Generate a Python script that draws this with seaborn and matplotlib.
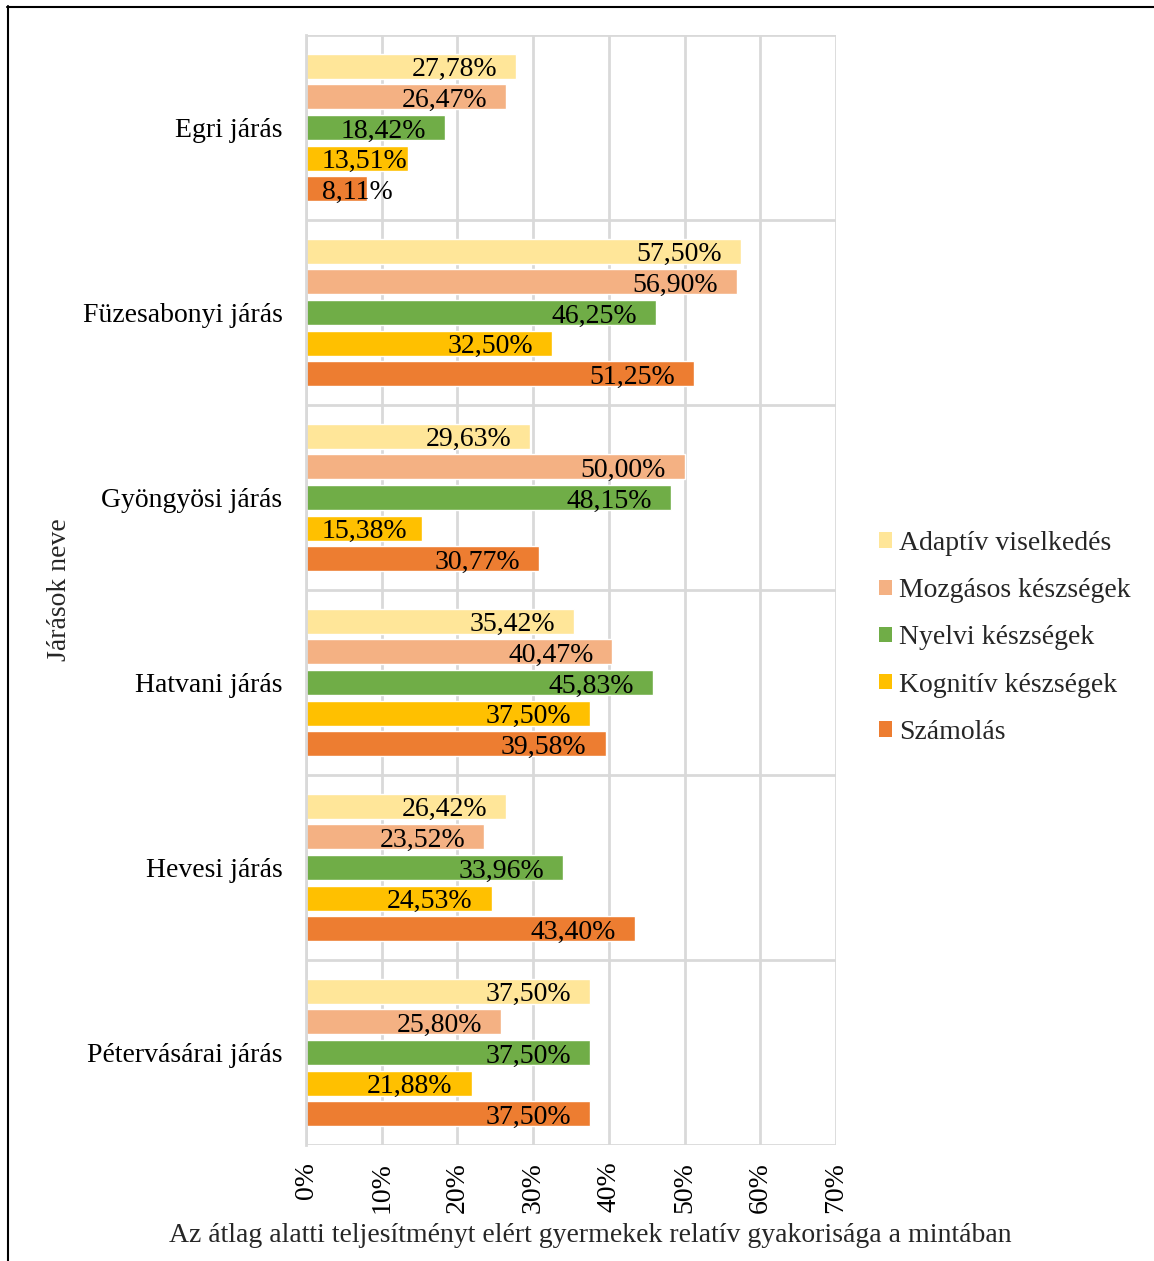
import numpy as np
import pandas as pd
import matplotlib
matplotlib.use("Agg")
import matplotlib.pyplot as plt
import seaborn as sns
from matplotlib.lines import Line2D
from matplotlib.patches import Patch
from matplotlib.transforms import ScaledTranslation

# Districts (top to bottom) and skill areas (series)
districts = ["Egri járás", "Füzesabonyi járás", "Gyöngyösi járás",
             "Hatvani járás", "Hevesi járás", "Pétervásárai járás"]
skills = ["Adaptív viselkedés", "Mozgásos készségek", "Nyelvi készségek",
          "Kognitív készségek", "Számolás"]

# Share of children below average, in percent, per district
adaptiv = [27.78, 57.50, 29.63, 35.42, 26.42, 37.50]
mozgasos = [26.47, 56.90, 50.00, 40.47, 23.52, 25.80]
nyelvi = [18.42, 46.25, 48.15, 45.83, 33.96, 37.50]
kognitiv = [13.51, 32.50, 15.38, 37.50, 24.53, 21.88]
szamolas = [8.11, 51.25, 30.77, 39.58, 43.40, 37.50]

xticks = [0, 10, 20, 30, 40, 50, 60, 70]
xticklabels = ["0%", "10%", "20%", "30%", "40%", "50%", "60%", "70%"]

colors = ["#FFE699", "#F4B183", "#70AD47", "#FFC000", "#ED7D31"]

series = [adaptiv, mozgasos, nyelvi, kognitiv, szamolas]
df = pd.DataFrame(
    [(d, s, v) for s, vals in zip(skills, series) for d, v in zip(districts, vals)],
    columns=["district", "skill", "value"],
)

sns.set_theme(style="white")
plt.rcParams["font.family"] = ["Liberation Serif", "DejaVu Serif"]

W, H = 1154, 1261
fig = plt.figure(figsize=(W / 100, H / 100), dpi=100)
ax = fig.add_axes([306 / W, 1 - 1145 / H, 530 / W, 1110 / H])

sns.barplot(data=df, x="value", y="district", hue="skill",
            order=districts, hue_order=skills, palette=colors,
            orient="h", width=0.83, gap=0.19, saturation=1,
            errorbar=None, legend=False, ax=ax)

grid_c = "#D9D9D9"
ax.set_xlim(0, 70)
ax.set_ylim(5.5, -0.5)
ax.set_xticks(xticks)
ax.set_xticklabels(xticklabels, rotation=90, fontsize=20)
ax.set_yticks(range(len(districts)))
ax.set_yticklabels(districts, fontsize=20)
ax.set_yticks(np.arange(-0.5, len(districts), 1), minor=True)
ax.set_xlabel("")
ax.set_ylabel("")
ax.set_axisbelow(True)
ax.xaxis.grid(True, color=grid_c, lw=2)
ax.yaxis.grid(True, which="minor", color=grid_c, lw=2)
ax.yaxis.grid(False, which="major")
ax.tick_params(axis="x", length=0, pad=12, colors="black")
ax.tick_params(axis="y", which="major", length=0, pad=17, colors="black")
ax.tick_params(axis="y", which="minor", length=6, width=2, color=grid_c,
               direction="out")
for side in ["top", "right", "bottom"]:
    ax.spines[side].set_visible(False)
ax.spines["left"].set_color(grid_c)
ax.spines["left"].set_linewidth(2)

# Value labels at the inside end of each bar
fig.canvas.draw()
renderer = fig.canvas.get_renderer()
px_per_unit = ax.transData.transform((1, 0))[0] - ax.transData.transform((0, 0))[0]
x0_px = ax.transData.transform((0, 0))[0]
shift_down = ax.transData + ScaledTranslation(0, -3.5 / 100, fig.dpi_scale_trans)
for cont, vals in zip(ax.containers, series):
    for bar, v in zip(cont, vals):
        yc = bar.get_y() + bar.get_height() / 2
        label = f"{v:.2f}%".replace(".", ",")
        t = ax.text(v - 19 / px_per_unit, yc, label, ha="right", va="center",
                    fontsize=20, color="black", transform=shift_down)
        bb = t.get_window_extent(renderer)
        min_left = x0_px + 16
        if bb.x0 < min_left:
            t.set_x(t.get_position()[0] + (min_left - bb.x0) / px_per_unit)

# Axis titles
fig.text(60 / W, 1 - 590 / H, "Járások neve", rotation=90, ha="center",
         va="center", fontsize=20)
fig.text(590 / W, 1 - 1235 / H,
         "Az átlag alatti teljesítményt elért gyermekek relatív gyakorisága a mintában",
         ha="center", va="center", fontsize=20)

# Legend
handles = [Patch(facecolor=c, edgecolor="none") for c in colors]
fig.legend(handles, skills, loc="upper left",
           bbox_to_anchor=(879 / W, 1 - 531 / H), frameon=False, fontsize=20,
           handlelength=0.47, handleheight=0.47, handletextpad=0.25,
           labelspacing=0.80, borderaxespad=0, borderpad=0)

# Outer frame
fig.add_artist(Line2D([7.5 / W, 7.5 / W], [1 - 6 / H, 0], transform=fig.transFigure,
                      color="black", lw=1.5))
fig.add_artist(Line2D([7 / W, 1], [1 - 6.5 / H, 1 - 6.5 / H], transform=fig.transFigure,
                      color="black", lw=1.5))

fig.savefig("out.png", dpi=100)
